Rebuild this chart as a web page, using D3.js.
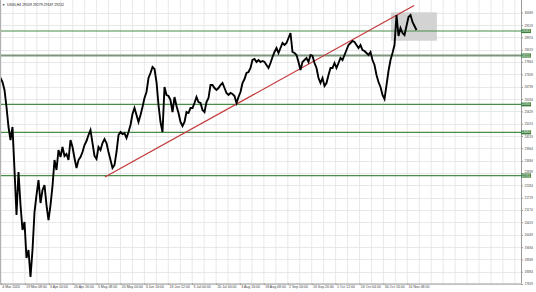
<!DOCTYPE html>
<html>
<head>
<meta charset="utf-8">
<script src="https://cdn.jsdelivr.net/npm/d3@7"></script>
<style>
  html, body { margin: 0; padding: 0; background: #fff; }
  svg { display: block; }
  text { font-family: "Liberation Sans", Arial, sans-serif; }
</style>
</head>
<body>
<svg id="chart" width="536" height="292"></svg>
<script>
// ---- data ----
const symbolTitle = "US30,H4  29209 29279 29187 29212";

// H4 closes (one sample per ~2 bars of display)
const closes = [
  27138, 26958, 26596, 25828, 24924, 24336, 24924, 22980, 20946, 22890,
  21398, 20268, 20630, 19002, 19364, 18144, 19364, 21082, 21850, 22528,
  21488, 22076, 22302, 21398, 20720, 21398, 22257, 23432, 22980, 23884,
  23568, 24020, 23613, 23703, 23432, 24336, 24020, 23522, 23070, 23432,
  23568, 23794, 24110, 24291, 24562, 24788, 24200, 23613, 23477, 24020,
  23884, 24200, 24381, 24200, 23794, 23432, 23070, 23206, 23794, 24562,
  24698, 24607, 24652, 24426, 24698, 25014, 25511, 25782, 25466, 25150,
  25466, 25828, 26234, 26506, 27138, 27364, 27636, 27545, 26958, 25918,
  25150, 24698, 26732, 26370, 26325, 26144, 25602, 26280, 25873, 25556,
  25150, 24969, 25150, 25602, 25556, 25782, 25782, 26008, 26280, 26054,
  26008, 25692, 25602, 26054, 26234, 26822, 26822, 26686, 26596, 26686,
  26822, 26912, 26686, 26460, 26370, 26460, 26415, 26325, 26008, 26280,
  26506, 26912, 27093, 27364, 27410, 27590, 27952, 27997, 27862, 27952,
  27862, 27907, 27862, 27726, 27590, 27816, 28088, 28314, 28494, 28268,
  28494, 28720, 28630, 28720, 28946, 29172, 28314, 28268, 28178, 27862,
  27500, 27862, 27952, 28042, 27862, 28178, 28133, 27816, 27590, 27138,
  26912, 27138, 26777, 26912, 27274, 27590, 27590, 27816, 27590, 27816,
  28042, 27952, 28178, 28404, 28630, 28720, 28811, 28766, 28630, 28494,
  28630, 28404, 28359, 28268, 28178, 28314, 27952, 27726, 27274, 26958,
  26732, 26370, 26189, 26822, 27455, 27952, 28268, 28630, 29986, 29037,
  29398, 29172, 29082, 29489, 29896, 29986, 29670, 29489, 29308
];

const priceTicks = [30099, 29529, 28974, 28419, 27864, 27309, 26739, 26184, 25629, 25074,
  24519, 23964, 23394, 22839, 22284, 21729, 21174, 20619, 20049, 19494, 18939, 18384, 17829];

const timeLabels = ["4 Mar 2020", "19 Mar 08:00", "3 Apr 00:00", "20 Apr 16:00", "5 May 08:00",
  "20 May 00:00", "3 Jun 16:00", "18 Jun 12:00", "3 Jul 04:00", "20 Jul 00:00", "3 Aug 16:00",
  "18 Aug 08:00", "2 Sep 00:00", "16 Sep 20:00", "1 Oct 12:00", "16 Oct 04:00", "30 Oct 16:00",
  "16 Nov 08:00"];

// horizontal support / resistance levels
const levels = [29263, 28155, 25950, 24684, 22731];
// trendline: [sample index, price]
const trendStart = [52.2, 22664];
const trendEnd = [206.8, 30415];
// shaded zone: index range and price range
const zoneIdx = [195.2, 218.2];
const zonePrice = [28824, 30108];

// ---- layout ----
const W = 536, H = 292;
const plotR = 521, plotB = 283.5;
const barsPerLabel = 11.95;

const svg = d3.select("#chart");
svg.append("rect").attr("width", W).attr("height", H).attr("fill", "#fff");

const x = d3.scaleLinear().domain([0, closes.length - 1]).range([0.5, 416.5]);
const y = d3.scaleLinear().domain([17829, 30099]).range([284, 12.5]);

// grid
const gGrid = svg.append("g");
gGrid.selectAll("line.h").data(priceTicks).join("line")
  .attr("x1", 0).attr("x2", plotR)
  .attr("y1", d => Math.round(y(d)) + 0.5).attr("y2", d => Math.round(y(d)) + 0.5)
  .attr("stroke", "#e2e2e2").attr("stroke-width", 0.8);
const vGrid = d3.range(0, 44).map(k => 0.25 + k * barsPerLabel / 2);
gGrid.selectAll("line.v").data(vGrid).join("line")
  .attr("x1", d => x(d)).attr("x2", d => x(d))
  .attr("y1", 0).attr("y2", plotB)
  .attr("stroke", "#e2e2e2").attr("stroke-width", 0.8);

// shaded zone
svg.append("rect")
  .attr("x", x(zoneIdx[0])).attr("width", x(zoneIdx[1]) - x(zoneIdx[0]))
  .attr("y", y(zonePrice[1])).attr("height", y(zonePrice[0]) - y(zonePrice[1]))
  .attr("fill", "#d3d3d3");

// levels
svg.selectAll("line.lvl").data(levels).join("line")
  .attr("x1", 0).attr("x2", plotR)
  .attr("y1", d => y(d)).attr("y2", d => y(d))
  .attr("stroke", (d, i) => i === 1 ? "#7d957d" : "#4a8c4a")
  .attr("stroke-width", (d, i) => i === 1 ? 1.8 : 1.2);

// trendline
svg.append("line")
  .attr("x1", x(trendStart[0])).attr("y1", y(trendStart[1]))
  .attr("x2", x(trendEnd[0])).attr("y2", y(trendEnd[1]))
  .attr("stroke", "#c4383a").attr("stroke-width", 1.2);

// price
const line = d3.line().x((d, i) => x(i)).y(d => y(d));
svg.append("path").datum(closes)
  .attr("d", line).attr("fill", "none")
  .attr("stroke", "#000").attr("stroke-width", 1.9)
  .attr("stroke-linejoin", "miter");

// borders
svg.append("line").attr("x1", 0.5).attr("x2", 0.5).attr("y1", 0).attr("y2", plotB)
  .attr("stroke", "#b0b0b0").attr("stroke-width", 1);

// right price axis
const yAxis = d3.axisRight(y).tickValues(priceTicks).tickSize(2).tickPadding(1.5)
  .tickFormat(d3.format("d"));
const gy = svg.append("g").attr("transform", `translate(${plotR},0)`).call(yAxis);
gy.select(".domain").attr("stroke", "#9a9a9a").attr("d", `M0.5,0V${plotB}`);
gy.selectAll(".tick line").attr("stroke", "#9a9a9a");
gy.selectAll(".tick text").attr("font-size", 3).attr("fill", "#444")
  .attr("font-family", "Liberation Sans, Arial, sans-serif")
  .attr("dy", d => {
    // keep tick labels clear of the level tags
    let shift = 0;
    levels.forEach(l => {
      const dist = y(d) - y(l);
      if (Math.abs(dist) < 4) shift += (dist < 0 ? -1 : 1) * (4 - Math.abs(dist));
    });
    return (0.32 * 3 + shift) + "px";
  });

// bottom time axis
const tIdx = timeLabels.map((d, i) => 0.25 + i * barsPerLabel);
const xAxis = d3.axisBottom(x).tickValues(tIdx).tickSize(1.5).tickPadding(0.5)
  .tickFormat((d, i) => timeLabels[i]);
const gx = svg.append("g").attr("transform", `translate(0,${plotB})`).call(xAxis);
gx.select(".domain").attr("stroke", "#9a9a9a").attr("d", `M0,0.5H${plotR + 0.5}`);
gx.selectAll(".tick line").attr("stroke", "#9a9a9a");
gx.selectAll(".tick text").attr("font-size", 3.5).attr("fill", "#444")
  .attr("text-anchor", "start").attr("dx", 0.8)
  .attr("font-family", "Liberation Sans, Arial, sans-serif");

// level price tags
const tags = svg.selectAll("g.tag").data(levels).join("g")
  .attr("transform", d => `translate(${plotR},${y(d)})`);
tags.append("rect").attr("x", 0).attr("y", -2.1).attr("width", 10).attr("height", 4.2)
  .attr("fill", "#3f7f3f");
tags.append("text").attr("x", 5).attr("y", 1.05).attr("text-anchor", "middle")
  .attr("font-size", 3).attr("fill", "#fff").text(d => d3.format("d")(d));

// title
svg.append("text").attr("x", 2).attr("y", 6.2).attr("font-size", 3.2).attr("fill", "#222")
  .text("▼");
svg.append("text").attr("x", 7).attr("y", 6.2).attr("font-size", 3.5).attr("fill", "#222")
  .text(symbolTitle);
</script>
</body>
</html>
